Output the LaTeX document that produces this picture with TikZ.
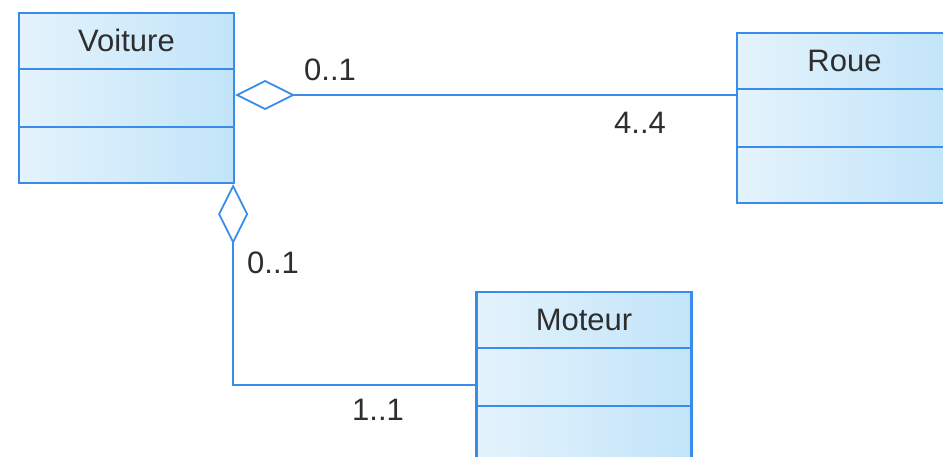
\documentclass[tikz,border=0pt]{standalone}
\usepackage{fontspec}
\setmainfont{Liberation Sans}
\usetikzlibrary{arrows.meta,calc,positioning}
\definecolor{Edge}{HTML}{3A8CEB}
\definecolor{BoxLight}{HTML}{E4F3FC}
\definecolor{BoxDark}{HTML}{C2E4F9}
\definecolor{Label}{HTML}{2E2E2E}
\tikzset{
  classbox/.style={
    draw=Edge, line width=2.2pt, left color=BoxLight, right color=BoxDark,
    minimum width=215pt, minimum height=170pt, inner sep=0pt
  },
  classtitle/.style={
    text=Label, inner sep=0pt, font=\fontsize{31}{36}\selectfont
  },
  mult/.style={
    text=Label, inner sep=0pt, font=\fontsize{31}{36}\selectfont
  },
  divider/.style={draw=Edge, line width=2pt},
  aggr/.style={
    {Diamond[open,length=60pt,width=30pt,line width=1.8pt]}-,
    draw=Edge, line width=2pt
  }
}

\begin{document}
\begin{tikzpicture}[x=1pt,y=1pt]
        \useasboundingbox (0,0) rectangle (943,457);
        \clip (0,0) rectangle (943,457);
        \fill[white] (0,0) rectangle (943,457);
        % classes
        \node[classbox] (voiture) at (126.5,359) {};
        \node[classbox] (roue) at (844.5,339) {};
        \node[classbox] (moteur) at (584,80) {};
        \foreach \c in {voiture,roue,moteur} {
          \draw[divider] ($(\c.north west)!0.333!(\c.south west)$) -- ($(\c.north east)!0.333!(\c.south east)$);
          \draw[divider] ($(\c.north west)!0.667!(\c.south west)$) -- ($(\c.north east)!0.667!(\c.south east)$);
        }
        \node[classtitle] (tvoiture) at ($(voiture.north)!0.167!(voiture.south)$) {Voiture};
        \node[classtitle] (troue) at ($(roue.north)!0.167!(roue.south)$) {Roue};
        \node[classtitle] (tmoteur) at ($(moteur.north)!0.167!(moteur.south)$) {Moteur};
        % associations
        \draw[aggr] ([yshift=3pt]voiture.east) -- ([yshift=3pt]voiture.east -| roue.west);
        \draw[aggr] ([xshift=-2pt]voiture.south east) |- ([yshift=-8pt]moteur.west);
        % multiplicities
        \node[mult] (m1) at (330,387) {0..1};
        \node[mult] (m2) at (640,334) {4..4};
        \node[mult] (m3) at (273,194) {0..1};
        \node[mult] (m4) at (378,47) {1..1};
      \end{tikzpicture}
\end{document}
